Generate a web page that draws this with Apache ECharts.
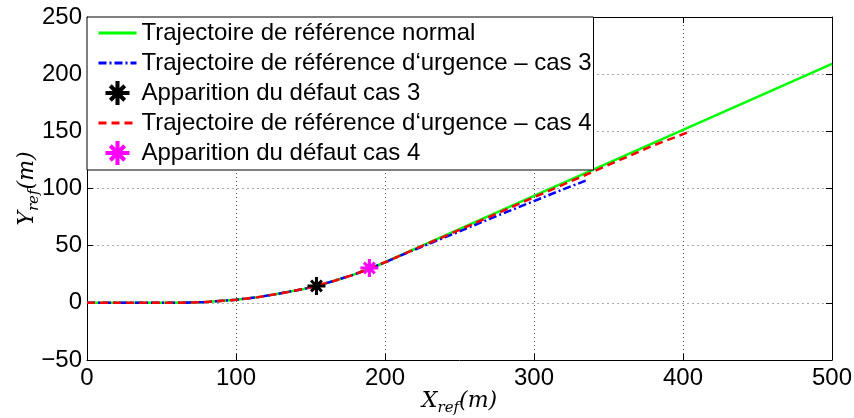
<!DOCTYPE html>
<html>
<head>
<meta charset="utf-8">
<script src="https://cdn.jsdelivr.net/npm/echarts@6/dist/echarts.min.js"></script>
<style>
html,body{margin:0;padding:0;background:#fff;}
#c{width:854px;height:418px;}
</style>
</head>
<body>
<div id="c"></div>
<script>
// ---- data ----
var normalX = [0, 40, 60, 80, 100, 115, 130, 145, 155, 165, 178, 190, 200, 212, 225, 300, 400, 500];
var normalY = [0, 0, 0, 0.7, 2.7, 5.0, 8.3, 12.0, 15.2, 18.9, 24.2, 30.0, 35.5, 42.5, 50.0, 93.6, 151.3, 209.0];

var cas3X = [0, 40, 60, 80, 100, 115, 130, 145, 155, 165, 178, 190, 200, 212, 225, 250, 275, 300, 320, 335];
var cas3Y = [0, 0, 0, 0.7, 2.7, 5.0, 8.3, 12.0, 15.2, 18.9, 24.2, 30.0, 35.4, 42.2, 49.2, 62.5, 76.0, 89.0, 99.5, 107.0];

var cas4X = [0, 40, 60, 80, 100, 115, 130, 145, 155, 165, 178, 190, 200, 225, 250, 300, 350, 380, 403];
var cas4Y = [0, 0, 0, 0.7, 2.7, 5.0, 8.3, 12.0, 15.2, 18.9, 24.2, 30.0, 35.5, 49.8, 63.8, 92.3, 120.6, 137.6, 149.0];

var defaut3X = [154];
var defaut3Y = [14.8];
var defaut4X = [189.5];
var defaut4Y = [30.5];

var xTicks = [0, 100, 200, 300, 400, 500];
var yTicks = [-50, 0, 50, 100, 150, 200, 250];

var names = [
  'Trajectoire de référence normal',
  'Trajectoire de référence d\u2018urgence \u2013 cas 3',
  'Apparition du défaut cas 3',
  'Trajectoire de référence d\u2018urgence \u2013 cas 4',
  'Apparition du défaut cas 4'
];

function zip(xs, ys) { return xs.map(function (x, i) { return [x, ys[i]]; }); }

var star = 'path://M0,8.3L20,8.3L20,11.7L0,11.7Z' +
  'M8.3,0L11.7,0L11.7,20L8.3,20Z' +
  'M5.2,2.8L17.2,14.8L14.8,17.2L2.8,5.2Z' +
  'M2.8,14.8L14.8,2.8L17.2,5.2L5.2,17.2Z';

var sans = 'Liberation Sans';
var serifRich = {
  i: { fontFamily: 'DejaVu Serif', fontStyle: 'italic', fontSize: 22, color: '#000', verticalAlign: 'top', lineHeight: 24 },
  s: { fontFamily: 'DejaVu Serif', fontStyle: 'italic', fontSize: 15, color: '#000', lineHeight: 36 }
};

var hideSym = { color: 'rgba(0,0,0,0)', borderWidth: 0, opacity: 0 };

var chart = echarts.init(document.getElementById('c'), null, { renderer: 'canvas' });
chart.setOption({
  animation: false,
  backgroundColor: '#fff',
  grid: { left: 87, right: 22, top: 17, bottom: 58, containLabel: false, outerBoundsMode: 'none' },
  legend: {
    left: 87, top: 17, orient: 'vertical',
    data: [
      { name: names[0], itemStyle: hideSym },
      { name: names[1], itemStyle: hideSym },
      { name: names[2] },
      { name: names[3], itemStyle: hideSym },
      { name: names[4] }
    ],
    backgroundColor: '#fff', borderColor: '#000', borderWidth: 1,
    padding: [4, 2, 5, 10],
    itemWidth: 38, itemHeight: 24, itemGap: 6,
    lineStyle: { width: 3 },
    textStyle: { fontFamily: sans, fontSize: 24, color: '#000' },
    selectedMode: false
  },
  xAxis: [{
    type: 'value', min: 0, max: 500, interval: 100, position: 'bottom',
    name: '{i|X}{s|ref}{i|(m)}', nameLocation: 'middle', nameGap: 30, nameMoveOverlap: false,
    nameTextStyle: { rich: serifRich },
    axisLine: { onZero: false, lineStyle: { color: '#000', width: 1 } },
    axisTick: { inside: true, length: 6, lineStyle: { color: '#000' } },
    axisLabel: { fontFamily: sans, fontSize: 24, color: '#000', margin: 6,
      formatter: function (v) { return xTicks.indexOf(v) >= 0 ? String(v) : ''; } },
    splitLine: { show: true, lineStyle: { type: [1, 3], color: '#444', width: 1 } }
  }, {
    type: 'value', min: 0, max: 500, interval: 100, position: 'top',
    axisLine: { show: true, onZero: false, lineStyle: { color: '#000', width: 1 } },
    axisTick: { inside: true, length: 6, lineStyle: { color: '#000' } },
    axisLabel: { show: false }, splitLine: { show: false }
  }],
  yAxis: [{
    type: 'value', min: -50, max: 250, interval: 50, position: 'left',
    name: '{i|Y}{s|ref}{i|(m)}', nameLocation: 'middle', nameGap: 35, nameRotate: 90, nameMoveOverlap: false,
    nameTextStyle: { rich: serifRich },
    axisLine: { show: true, onZero: false, lineStyle: { color: '#000', width: 1 } },
    axisTick: { show: true, inside: true, length: 6, lineStyle: { color: '#000' } },
    axisLabel: { fontFamily: sans, fontSize: 24, color: '#000', margin: 5,
      formatter: function (v) { return yTicks.indexOf(v) >= 0 ? (v < 0 ? '\u2212' + Math.abs(v) : String(v)) : ''; } },
    splitLine: { show: true, lineStyle: { type: [2, 3], color: '#aaa', width: 1 } }
  }, {
    type: 'value', min: -50, max: 250, interval: 50, position: 'right',
    axisLine: { show: true, onZero: false, lineStyle: { color: '#000', width: 1 } },
    axisTick: { show: true, inside: true, length: 6, lineStyle: { color: '#000' } },
    axisLabel: { show: false }, splitLine: { show: false }
  }],
  series: [
    { name: names[0], type: 'line', data: zip(normalX, normalY), symbol: 'none', smooth: false,
      lineStyle: { color: '#00ff00', width: 2.5, type: 'solid' }, itemStyle: { color: '#00ff00' }, z: 2 },
    { name: names[1], type: 'line', data: zip(cas3X, cas3Y), symbol: 'none', smooth: false,
      lineStyle: { color: '#0000ff', width: 2.5, type: [8, 3, 2, 3] }, itemStyle: { color: '#0000ff' }, z: 3 },
    { name: names[2], type: 'scatter', data: zip(defaut3X, defaut3Y), symbol: star, symbolSize: 18,
      itemStyle: { color: '#000', opacity: 1 }, z: 6 },
    { name: names[3], type: 'line', data: zip(cas4X, cas4Y), symbol: 'none', smooth: false,
      lineStyle: { color: '#ff0000', width: 2.5, type: [8, 5] }, itemStyle: { color: '#ff0000' }, z: 4 },
    { name: names[4], type: 'scatter', data: zip(defaut4X, defaut4Y), symbol: star, symbolSize: 18,
      itemStyle: { color: '#ff00ff', opacity: 1 }, z: 6 }
  ]
});
</script>
</body>
</html>
